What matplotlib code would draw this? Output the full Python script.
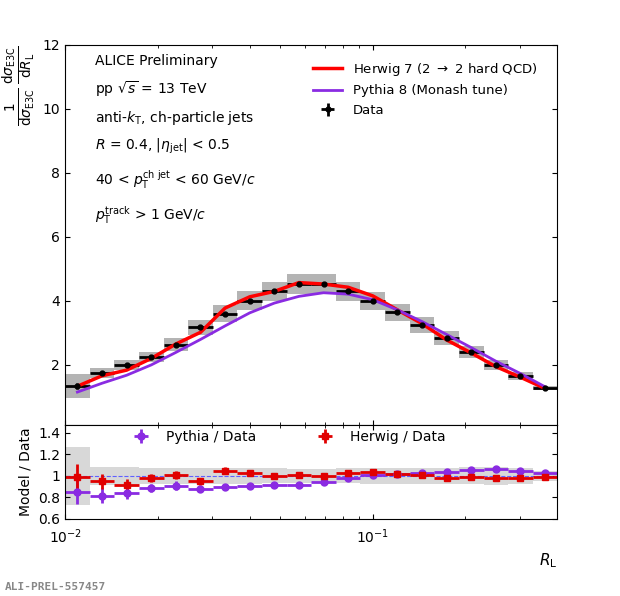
import numpy as np
import matplotlib
matplotlib.use("Agg")
import matplotlib.pyplot as plt
from matplotlib.ticker import NullFormatter

edges = np.logspace(-2, np.log10(0.398), 21)
data = [1.35,1.75,2.0,2.25,2.63,3.18,3.6,4.01,4.3,4.53,4.53,4.3,4.0,3.65,3.26,2.84,2.4,1.99,1.65,1.28]
data_sys = [0.37,0.15,0.16,0.17,0.2,0.24,0.27,0.29,0.3,0.31,0.31,0.3,0.29,0.27,0.25,0.22,0.19,0.16,0.13,0.06]
data_stat = [0.1,0.05,0.04,0.03,0.03,0.03,0.03,0.03,0.03,0.03,0.03,0.03,0.03,0.03,0.02,0.02,0.02,0.02,0.02,0.02]
ratio_pythia = [0.855,0.817,0.84,0.89,0.91,0.88,0.895,0.905,0.915,0.915,0.94,0.98,1.01,1.02,1.03,1.04,1.06,1.065,1.05,1.03]
ratio_herwig = [0.99,0.95,0.92,0.98,1.01,0.95,1.05,1.03,1.0,1.01,1.0,1.03,1.04,1.02,1.01,0.98,0.99,0.98,0.98,0.99]
ratio_err = [0.12,0.07,0.05,0.04,0.04,0.03,0.03,0.02,0.02,0.02,0.02,0.02,0.02,0.02,0.02,0.02,0.02,0.02,0.02,0.02]

d = np.array(data); s = np.array(data_sys)
lo, hi = edges[:-1], edges[1:]
x = np.sqrt(lo*hi)
xerr = [x-lo, hi-x]
herwig = d*np.array(ratio_herwig)
pythia = d*np.array(ratio_pythia)

fig = plt.figure(figsize=(6.2,5.96), dpi=100)
ax = fig.add_axes([0.105, 1-425/596, 0.794, 380/596])
rx = fig.add_axes([0.105, 1-519/596, 0.794, 94/596], sharex=ax)

for i in range(20):
    ax.fill_between([lo[i],hi[i]], d[i]-s[i], d[i]+s[i], color='#b4b4b4', lw=0)
    rel = s[i]/d[i]
    rx.fill_between([lo[i],hi[i]], 1-rel, 1+rel, color='#d8d8d8', lw=0)
hd = ax.errorbar(x, d, yerr=data_stat, xerr=xerr, fmt='o', color='black', ms=3.5, lw=2)
hh, = ax.plot(x, herwig, color='#ff0000', lw=2.5)
hp, = ax.plot(x, pythia, color='#8a2be2', lw=2)
ax.legend([hh, hp, hd], [r'Herwig 7 (2 $\rightarrow$ 2 hard QCD)', 'Pythia 8 (Monash tune)', 'Data'],
          loc='upper left', bbox_to_anchor=(0.48,0.99), frameon=False, fontsize=9.5, handlelength=2.2)
ax.set_xscale('log')
ax.set_xlim(edges[0], edges[-1])
ax.set_ylim(0.125, 12)
ax.set_yticks([2,4,6,8,10,12])
ax.tick_params(labelbottom=False, direction='in', which='both', top=True, right=True)
ax.set_ylabel(r'$\frac{1}{\mathrm{d}\sigma_{\mathrm{E3C}}}\,\frac{\mathrm{d}\sigma_{\mathrm{E3C}}}{\mathrm{d}R_{\mathrm{L}}}$', fontsize=14, loc='top')
txt = ("ALICE Preliminary\n"
       r"pp $\sqrt{s}$ = 13 TeV" "\n"
       r"anti-$k_{\mathrm{T}}$, ch-particle jets" "\n"
       r"$R$ = 0.4, $|\eta_{\mathrm{jet}}|$ < 0.5" "\n"
       r"40 < $p_{\mathrm{T}}^{\mathrm{ch\ jet}}$ < 60 GeV/$c$" "\n"
       r"$p_{\mathrm{T}}^{\mathrm{track}}$ > 1 GeV/$c$")
ax.text(0.06, 0.975, txt, transform=ax.transAxes, va='top', ha='left', fontsize=10, linespacing=1.75)

rx.axhline(1, color='#6060ff', ls='--', lw=0.8)
rx.errorbar(x, ratio_pythia, yerr=ratio_err, xerr=xerr, fmt='o', color='#8a2be2', ms=5, lw=2, label='Pythia / Data')
rx.errorbar(x, ratio_herwig, yerr=ratio_err, xerr=xerr, fmt='s', color='#e00000', ms=5, lw=2, label='Herwig / Data')
rx.legend(loc='upper left', bbox_to_anchor=(0.1,1.08), ncol=2, frameon=False, fontsize=10, columnspacing=4)
rx.set_ylim(0.6, 1.474)
rx.set_yticks([0.6,0.8,1.0,1.2,1.4])
rx.set_yticklabels(['0.6','0.8','1','1.2','1.4'])
rx.tick_params(direction='in', which='both', top=True, right=True)
rx.tick_params(axis='x', pad=6)
rx.xaxis.set_minor_formatter(NullFormatter())
rx.set_ylabel('Model / Data', fontsize=10)
rx.set_xlabel(r'$R_{\mathrm{L}}$', fontsize=11, loc='right')
fig.text(0.008, 0.01, 'ALI-PREL-557457', fontsize=8, color='#888888', family='DejaVu Sans Mono', weight='bold')
fig.savefig('out.png', dpi=100)
